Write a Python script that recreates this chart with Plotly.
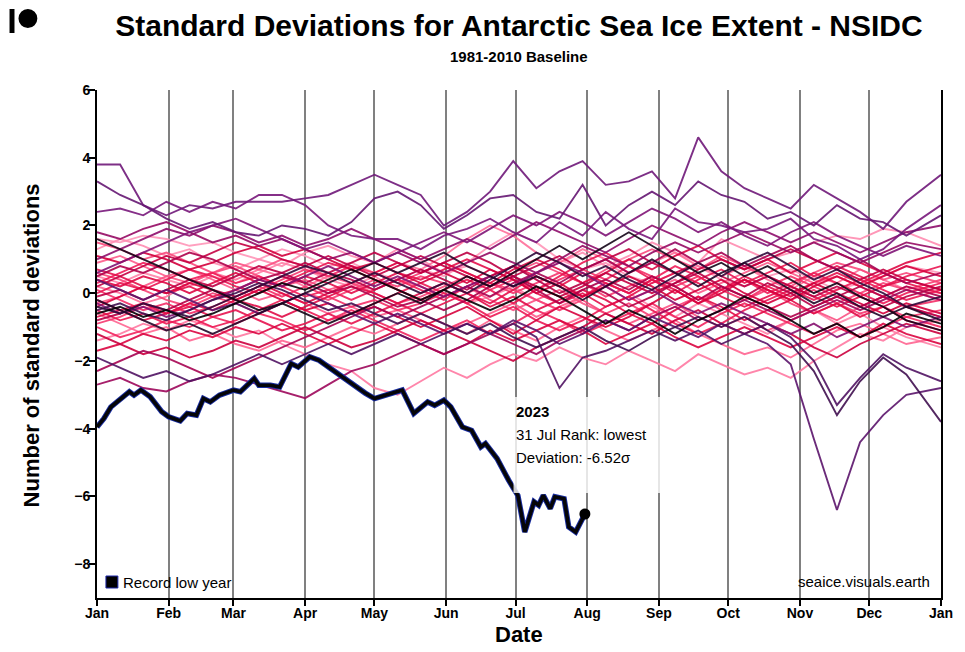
import pandas as pd
import plotly.graph_objects as go
from plotly.colors import sample_colorscale

# ---------------- data ----------------
# day-of-year sampling used for the historical years (Jan 1 = 0)
base_days = [0, 10, 20, 30, 40, 50, 60, 70, 80, 90, 100, 110, 120, 130, 140, 150, 160, 170,
             180, 190, 200, 210, 220, 230, 240, 250, 260, 270, 280, 290, 300, 310, 320, 330,
             340, 350, 365]

years = list(range(1979, 2023))

sd_1979 = [1.6, 1.5, 1.7, 1.6, 1.4, 1.5, 1.2, 1.0, 1.3, 1.1, 0.8, 0.9, 0.6, 0.4, 0.7, 0.5, 0.9, 1.4, 1.8, 1.5, 1.0, 0.7, 0.9, 0.5, 0.3, 0.6, 0.8, 0.4, 0.2, 0.5, 0.7, 0.4, 0.1, 0.3, 0.5, 0.8, 0.6]
sd_1980 = [1.3, 1.6, 1.4, 1.1, 1.3, 0.9, 0.7, 1.0, 0.8, 1.2, 1.4, 1.1, 0.9, 1.3, 1.0, 0.6, 0.8, 0.5, 0.2, 0.6, 0.9, 1.2, 0.8, 1.1, 1.5, 1.2, 0.9, 1.6, 1.3, 1.0, 1.2, 1.5, 1.7, 1.6, 1.9, 1.8, 1.4]
sd_1981 = [0.5, 0.3, 0.6, 0.4, 0.2, 0.5, 0.3, 0.6, 0.9, 0.7, 0.4, 0.2, 0.5, 0.1, -0.2, 0.1, -0.3, -0.1, 0.2, -0.2, -0.5, -0.1, 0.3, 0.0, -0.4, -0.7, -0.3, -0.6, -0.9, -1.2, -0.8, -0.5, -0.9, -0.6, -1.0, -1.3, -1.6]
sd_1982 = [-1.4, -1.2, -0.9, -1.1, -0.8, -1.0, -1.3, -1.1, -1.5, -1.8, -2.1, -2.3, -2.8, -3.0, -2.6, -2.2, -2.5, -2.1, -1.8, -2.0, -1.6, -1.9, -2.1, -1.7, -2.0, -2.3, -1.8, -2.1, -2.4, -2.2, -2.5, -2.0, -1.6, -1.2, -1.4, -1.0, -0.8]
sd_1983 = [0.2, 0.0, -0.3, -0.1, 0.3, 0.6, 0.4, 0.7, 0.5, 0.2, 0.5, 0.8, 0.6, 0.9, 0.7, 1.1, 1.6, 2.0, 1.7, 1.2, 0.9, 1.3, 1.0, 0.6, 0.9, 1.2, 0.8, 0.5, 0.8, 0.4, 0.1, 0.5, 0.3, 0.7, 0.4, 0.1, -0.2]
sd_1984 = [-0.6, -0.9, -1.2, -1.0, -1.4, -1.2, -1.5, -1.7, -1.4, -1.6, -1.3, -1.0, -1.2, -0.9, -0.6, -0.9, -1.2, -0.8, -1.1, -1.4, -1.0, -0.7, -1.1, -1.4, -1.1, -0.8, -1.2, -1.5, -1.8, -1.6, -1.9, -1.5, -1.1, -0.9, -1.2, -1.5, -1.3]
sd_1985 = [0.9, 1.1, 0.8, 0.5, 0.7, 0.4, 0.1, -0.2, 0.0, -0.3, -0.6, -0.4, -0.7, -0.5, -0.8, -1.1, -0.9, -0.6, -0.3, -0.7, -0.4, -0.1, 0.2, -0.2, 0.1, 0.4, 0.0, 0.3, 0.6, 0.9, 0.6, 0.3, 0.5, 0.2, -0.1, 0.2, 0.0]
sd_1986 = [-0.3, -0.1, 0.2, 0.5, 0.3, 0.6, 0.9, 0.7, 1.0, 0.8, 0.5, 0.3, 0.1, 0.4, 0.2, -0.1, 0.2, -0.2, -0.5, -0.2, 0.1, -0.3, -0.6, -0.9, -0.6, -0.3, -0.7, -1.0, -0.7, -1.1, -0.8, -0.5, -0.8, -0.4, -0.1, -0.4, -0.7]
sd_1987 = [1.5, 1.3, 1.0, 1.2, 0.9, 0.6, 0.8, 0.5, 0.2, 0.4, 0.1, 0.3, 0.0, -0.3, -0.1, 0.2, 0.5, 0.2, 0.6, 0.9, 0.6, 0.3, 0.7, 1.0, 1.3, 1.0, 0.7, 1.1, 0.8, 0.5, 0.2, 0.6, 0.9, 0.7, 0.4, 0.6, 0.3]
sd_1988 = [0.6, 0.4, 0.1, -0.2, -0.4, -0.1, -0.3, -0.6, -0.3, 0.0, -0.2, 0.1, 0.4, 0.2, 0.5, 0.3, 0.0, 0.3, 0.1, -0.2, -0.5, -0.2, -0.6, -0.3, -0.7, -0.4, -0.1, -0.5, -0.2, 0.1, -0.3, -0.6, -0.3, 0.0, 0.3, 0.1, 0.4]
sd_1989 = [-0.9, -0.7, -0.4, -0.6, -0.3, 0.0, -0.2, 0.1, 0.4, 0.7, 0.5, 0.8, 0.6, 0.3, 0.6, 0.9, 0.6, 0.3, 0.0, 0.3, 0.6, 0.3, -0.1, 0.2, 0.5, 0.2, -0.2, 0.1, 0.4, 0.1, -0.2, 0.1, -0.3, -0.6, -0.4, -0.7, -0.5]
sd_1990 = [0.1, -0.2, -0.5, -0.3, -0.6, -0.4, -0.1, 0.2, -0.1, 0.2, -0.1, -0.4, -0.2, -0.5, -0.3, 0.0, -0.3, 0.1, 0.4, 0.1, 0.4, 0.7, 0.4, 0.8, 0.5, 0.2, 0.5, 0.1, -0.2, 0.2, 0.5, 0.2, -0.1, -0.4, -0.1, -0.4, -0.2]
sd_1991 = [-1.0, -1.3, -1.1, -0.8, -1.0, -0.7, -0.9, -0.6, -0.8, -1.1, -0.8, -0.5, -0.8, -1.1, -1.4, -1.1, -0.8, -1.2, -0.9, -0.5, -0.8, -1.2, -0.9, -0.6, -0.3, -0.7, -1.0, -0.6, -0.3, -0.6, -0.9, -1.2, -0.9, -1.3, -1.0, -0.7, -1.0]
sd_1992 = [0.3, 0.6, 0.9, 0.7, 0.4, 0.6, 0.3, 0.5, 0.2, -0.1, 0.1, -0.2, 0.1, 0.4, 0.1, -0.2, 0.2, 0.5, 0.8, 0.5, 0.2, -0.1, 0.3, 0.0, 0.4, 0.8, 0.5, 0.1, 0.4, 0.0, 0.3, 0.6, 0.3, 0.0, -0.3, 0.0, 0.3]
sd_1993 = [-0.5, -0.8, -0.6, -0.9, -0.7, -1.0, -0.8, -0.5, -0.2, -0.5, -0.8, -0.6, -0.3, 0.0, 0.3, 0.0, -0.3, -0.7, -0.4, -0.8, -1.1, -0.8, -0.4, -0.1, -0.5, -0.9, -1.2, -0.9, -0.5, -0.2, 0.1, -0.2, 0.1, 0.4, 0.1, -0.2, 0.1]
sd_1994 = [0.0, 0.3, 0.1, 0.4, 0.7, 0.5, 0.2, 0.0, 0.3, 0.6, 0.9, 0.7, 0.4, 0.1, -0.2, 0.1, 0.4, 0.1, -0.3, 0.1, 0.5, 0.9, 1.2, 0.8, 0.4, 0.0, 0.4, 0.7, 0.3, 0.6, 0.9, 0.5, 0.8, 0.5, 0.2, 0.5, 0.8]
sd_1995 = [-0.2, -0.5, -0.3, -0.6, -0.4, -0.7, -0.5, -0.8, -1.1, -0.9, -0.6, -0.9, -0.6, -0.3, -0.6, -0.3, 0.0, -0.3, 0.1, 0.5, 0.2, 0.6, 0.3, 0.0, 0.4, 0.1, -0.3, 0.1, 0.5, 0.2, -0.1, 0.3, 0.6, 0.3, 0.6, 0.3, 0.0]
sd_1996 = [0.7, 0.5, 0.2, 0.0, 0.2, -0.1, 0.1, 0.4, 0.2, 0.5, 0.3, 0.0, 0.3, 0.6, 0.4, 0.7, 1.0, 0.7, 0.4, 0.0, -0.3, 0.0, -0.4, -0.1, 0.3, 0.6, 0.3, -0.1, -0.4, -0.1, 0.2, -0.1, -0.4, -0.1, 0.2, 0.4, 0.1]
sd_1997 = [-0.7, -0.5, -0.8, -0.6, -0.3, -0.5, -0.2, -0.4, -0.7, -0.4, -0.1, 0.2, 0.0, -0.3, 0.0, 0.3, 0.0, -0.4, -0.1, -0.5, -0.2, 0.1, -0.2, -0.6, -0.9, -0.5, -0.1, -0.4, -0.8, -0.5, -0.2, -0.6, -0.3, -0.7, -0.4, -0.8, -1.1]
sd_1998 = [0.4, 0.2, 0.5, 0.3, 0.0, 0.3, 0.6, 0.3, 0.0, -0.3, 0.0, 0.3, 0.6, 0.9, 0.6, 0.9, 0.6, 0.3, 0.7, 1.0, 0.7, 0.3, 0.6, 1.0, 0.7, 1.1, 1.4, 1.0, 0.7, 1.0, 0.6, 0.9, 1.2, 0.9, 0.6, 0.9, 1.2]
sd_1999 = [-1.7, -1.5, -1.2, -1.4, -1.1, -1.3, -1.0, -1.2, -0.9, -1.2, -1.5, -1.2, -0.9, -1.2, -1.5, -1.8, -1.5, -1.1, -1.4, -1.1, -0.8, -1.1, -1.5, -1.2, -0.9, -1.3, -1.6, -1.3, -1.0, -1.3, -1.6, -1.3, -1.0, -1.3, -0.9, -1.2, -1.5]
sd_2000 = [-0.4, -0.1, 0.2, 0.0, 0.3, 0.1, -0.2, 0.1, -0.2, -0.5, -0.3, -0.6, -0.4, -0.7, -1.0, -0.7, -0.4, -0.8, -1.2, -0.8, -0.4, -0.7, -1.0, -0.7, -0.3, 0.1, -0.3, 0.0, 0.4, 0.1, -0.2, 0.2, 0.5, 0.2, 0.5, 0.8, 0.5]
sd_2001 = [1.1, 0.9, 1.2, 1.0, 0.7, 0.9, 1.2, 1.4, 1.1, 1.3, 1.0, 0.7, 0.9, 0.6, 0.3, 0.6, 0.3, 0.7, 0.4, 0.0, 0.3, -0.1, 0.2, 0.5, 0.2, -0.2, 0.1, 0.4, 0.0, -0.3, 0.0, 0.3, 0.0, -0.3, -0.6, -0.3, -0.6]
sd_2002 = [-1.2, -1.5, -1.8, -1.6, -1.9, -1.7, -1.4, -1.6, -1.3, -1.0, -1.3, -1.6, -1.4, -1.1, -0.8, -1.1, -1.4, -1.7, -2.0, -1.6, -1.3, -1.0, -0.6, -0.9, -1.2, -0.8, -0.5, -0.9, -1.2, -0.9, -1.2, -1.6, -1.9, -1.5, -1.2, -0.9, -1.2]
sd_2003 = [0.2, 0.5, 0.8, 1.1, 0.9, 1.2, 1.5, 1.3, 1.0, 0.8, 1.1, 0.8, 0.5, 0.8, 1.1, 0.8, 0.5, 0.2, 0.5, 0.2, -0.1, 0.2, 0.6, 0.3, 0.0, 0.3, 0.7, 1.0, 0.7, 1.0, 1.3, 1.0, 0.7, 0.4, 0.7, 0.4, 0.1]
sd_2004 = [-0.1, 0.1, -0.2, 0.1, 0.4, 0.2, 0.5, 0.8, 0.6, 0.9, 0.6, 0.9, 1.2, 0.9, 0.6, 0.9, 1.2, 0.9, 0.5, 0.8, 1.1, 0.7, 1.0, 1.3, 0.9, 0.6, 0.9, 0.5, 0.2, 0.5, 0.2, -0.1, 0.2, -0.1, -0.4, -0.1, 0.2]
sd_2005 = [-0.8, -0.6, -0.3, -0.5, -0.2, 0.1, -0.1, 0.2, 0.5, 0.3, 0.6, 0.4, 0.1, 0.4, 0.7, 0.4, 0.1, 0.5, 0.8, 0.4, 0.0, 0.3, 0.0, -0.4, -0.1, 0.3, 0.6, 0.2, -0.1, 0.3, 0.0, -0.4, -0.1, 0.2, -0.1, -0.4, -0.7]
sd_2006 = [0.5, 0.8, 0.6, 0.9, 1.2, 1.0, 0.7, 0.4, 0.6, 0.3, 0.0, 0.2, -0.1, -0.4, -0.2, -0.5, -0.2, 0.2, 0.5, 0.1, -0.3, 0.1, 0.4, 0.1, 0.5, 0.2, -0.2, 0.2, -0.1, -0.4, -0.7, -0.4, -0.1, -0.4, -0.1, 0.2, -0.1]
sd_2007 = [-2.3, -2.0, -1.7, -1.9, -2.2, -2.5, -2.2, -1.9, -1.6, -1.3, -1.0, -0.7, -0.4, -0.7, -0.4, -0.1, 0.2, -0.1, 0.3, 0.6, 0.3, 0.7, 1.0, 0.6, 0.9, 1.3, 0.9, 1.2, 0.8, 1.1, 1.4, 1.0, 0.7, 1.0, 0.6, 0.3, 0.6]
sd_2008 = [-2.7, -2.5, -2.8, -2.9, -2.6, -2.4, -2.5, -2.7, -2.9, -3.1, -2.7, -2.3, -2.1, -1.8, -1.5, -1.8, -1.5, -1.2, -1.5, -1.8, -1.4, -1.1, -0.8, -1.1, -0.7, -0.4, -0.8, -0.5, -0.2, -0.5, -0.8, -0.5, -0.2, -0.5, -0.2, 0.1, -0.2]
sd_2009 = [1.8, 1.6, 1.9, 2.1, 1.8, 1.5, 1.7, 1.4, 1.6, 1.3, 1.0, 1.2, 0.9, 1.2, 0.9, 0.6, 0.9, 1.2, 0.9, 0.6, 1.0, 1.4, 1.1, 0.8, 1.2, 1.5, 1.2, 1.5, 1.8, 1.5, 1.2, 1.5, 1.2, 0.9, 1.2, 1.5, 1.3]
sd_2010 = [1.0, 1.3, 1.6, 1.9, 1.7, 2.0, 1.8, 1.5, 1.7, 1.4, 1.6, 1.9, 1.6, 1.3, 1.0, 1.3, 1.6, 1.3, 1.7, 2.1, 1.8, 1.5, 1.2, 1.6, 2.0, 1.7, 1.4, 1.8, 2.1, 1.8, 1.5, 1.8, 1.5, 1.2, 1.5, 1.8, 2.0]
sd_2011 = [-0.3, -0.6, -0.4, -0.7, -0.5, -0.2, 0.1, 0.4, 0.2, 0.5, 0.8, 0.5, 0.2, 0.5, 0.2, -0.1, 0.2, 0.5, 0.2, 0.6, 0.9, 0.6, 0.2, -0.2, 0.1, -0.3, -0.6, -0.3, -0.6, -0.9, -1.2, -0.9, -1.3, -1.0, -0.7, -1.0, -0.7]
sd_2012 = [0.6, 0.9, 1.2, 1.5, 1.8, 2.0, 2.2, 1.9, 1.6, 1.3, 1.5, 1.2, 0.9, 1.2, 1.5, 1.8, 1.5, 1.9, 2.3, 2.0, 2.4, 2.1, 1.7, 2.1, 2.5, 2.2, 1.8, 2.1, 1.7, 1.4, 1.8, 2.1, 1.7, 1.4, 1.1, 1.4, 1.1]
sd_2013 = [2.4, 2.5, 2.3, 2.7, 2.4, 2.7, 2.5, 2.9, 2.9, 2.6, 2.0, 1.7, 1.6, 1.6, 1.3, 1.7, 1.9, 2.2, 1.8, 1.5, 2.1, 1.7, 2.4, 1.9, 1.6, 2.5, 2.1, 2.0, 1.8, 1.9, 2.2, 1.6, 1.4, 1.0, 1.3, 1.9, 2.6]
sd_2014 = [3.8, 3.8, 2.6, 2.3, 2.6, 2.5, 2.7, 2.7, 2.7, 2.8, 2.9, 3.2, 3.5, 3.2, 2.9, 2.0, 2.4, 3.0, 3.9, 3.1, 3.6, 3.9, 3.2, 3.3, 3.6, 2.8, 4.6, 3.6, 3.1, 2.8, 2.5, 3.2, 2.8, 2.4, 1.9, 2.7, 3.5]
sd_2015 = [3.3, 2.9, 2.6, 2.2, 1.9, 2.1, 1.8, 1.7, 2.0, 1.9, 1.7, 2.1, 2.8, 3.0, 2.6, 1.9, 2.3, 2.8, 2.9, 2.4, 2.2, 3.2, 2.0, 2.6, 3.0, 2.6, 3.3, 2.9, 2.7, 2.2, 2.4, 2.0, 2.6, 2.2, 2.1, 1.7, 2.3]
sd_2016 = [0.4, 0.1, -0.2, 0.1, -0.2, -0.5, -0.3, -0.6, -0.3, 0.0, -0.3, -0.6, -0.9, -0.6, -0.9, -1.2, -0.9, -1.2, -0.8, -1.1, -1.5, -1.2, -0.8, -1.1, -0.7, -1.0, -1.3, -0.9, -1.2, -1.5, -2.1, -4.3, -6.4, -4.4, -3.6, -3.0, -2.8]
sd_2017 = [-1.9, -2.2, -2.5, -2.3, -2.6, -2.4, -2.1, -1.8, -2.1, -1.8, -1.5, -1.8, -1.5, -1.2, -1.5, -1.2, -0.9, -1.2, -0.9, -1.3, -2.8, -1.9, -1.7, -1.4, -1.1, -1.4, -1.1, -1.5, -1.2, -0.9, -1.3, -2.0, -3.3, -2.5, -1.8, -2.2, -2.6]
sd_2018 = [-0.5, -0.3, -0.6, -0.8, -0.5, -0.2, 0.0, 0.3, 0.1, -0.2, -0.5, -0.3, -0.6, -0.9, -0.6, -0.9, -1.2, -0.9, -1.3, -1.6, -1.3, -1.0, -1.4, -1.7, -1.3, -1.0, -0.7, -1.0, -0.7, -1.1, -1.5, -2.3, -3.6, -2.6, -1.9, -2.4, -3.8]
sd_2019 = [-0.4, -0.6, -0.3, -0.5, -0.7, -0.4, -0.1, 0.2, 0.5, 0.8, 0.6, 0.3, 0.6, 0.3, 0.0, 0.3, 0.0, 0.4, 0.8, 1.2, 0.9, 0.5, 0.8, 0.4, 0.1, 0.5, 0.9, 0.5, 0.9, 1.2, 0.8, 0.4, 0.7, 0.3, 0.0, -0.4, -0.1]
sd_2020 = [-0.2, -0.5, -0.8, -1.1, -0.9, -1.2, -0.9, -0.6, -0.3, 0.0, 0.3, 0.6, 0.9, 0.6, 0.9, 1.2, 0.8, 0.5, 0.2, 0.5, 0.2, -0.2, 0.2, 0.6, 1.0, 0.6, 0.2, 0.6, 0.9, 0.5, 0.1, -0.3, 0.0, -0.4, -0.7, -0.4, -0.8]
sd_2021 = [1.6, 1.3, 1.0, 0.7, 0.4, 0.1, -0.2, -0.5, -0.3, -0.6, -0.9, -0.6, -0.3, 0.0, -0.3, 0.1, 0.5, 0.2, 0.6, 1.0, 1.4, 1.0, 1.4, 1.8, 1.4, 1.0, 0.6, 0.9, 0.5, 0.8, 0.4, 0.0, 0.3, -0.1, -0.4, -0.8, -1.1]
sd_2022 = [-0.6, -0.4, -0.7, -0.5, -0.8, -0.6, -0.3, 0.0, 0.3, 0.1, 0.4, 0.7, 0.4, 0.1, -0.2, 0.1, -0.2, -0.5, -0.2, 0.2, -0.1, -0.5, -0.9, -0.5, -0.8, -1.2, -0.8, -0.5, -0.1, -0.4, -0.8, -1.2, -0.9, -1.3, -1.0, -0.6, -0.9]

historical = [sd_1979, sd_1980, sd_1981, sd_1982, sd_1983, sd_1984, sd_1985, sd_1986,
              sd_1987, sd_1988, sd_1989, sd_1990, sd_1991, sd_1992, sd_1993, sd_1994,
              sd_1995, sd_1996, sd_1997, sd_1998, sd_1999, sd_2000, sd_2001, sd_2002,
              sd_2003, sd_2004, sd_2005, sd_2006, sd_2007, sd_2008, sd_2009, sd_2010,
              sd_2011, sd_2012, sd_2013, sd_2014, sd_2015, sd_2016, sd_2017, sd_2018,
              sd_2019, sd_2020, sd_2021, sd_2022]

days_2023 = [0, 3, 6, 10, 14, 16, 19, 23, 28, 31, 36, 39, 43, 46, 49, 53, 59, 62, 68, 70,
             75, 79, 84, 87, 92, 96, 100, 110, 116, 120, 125, 132, 137, 143, 146, 150, 153,
             158, 162, 166, 168, 173, 178, 182, 185, 189, 191, 193, 196, 198, 202, 204, 207,
             209, 211]
sd_2023 = [-3.95, -3.7, -3.36, -3.12, -2.91, -3.01, -2.86, -3.06, -3.5, -3.65, -3.77, -3.55,
           -3.6, -3.11, -3.21, -3.01, -2.86, -2.91, -2.52, -2.72, -2.72, -2.77, -2.08, -2.18,
           -1.88, -1.98, -2.18, -2.67, -2.95, -3.11, -3.01, -2.86, -3.55, -3.21, -3.31, -3.16,
           -3.36, -3.95, -4.05, -4.54, -4.44, -4.88, -5.52, -5.97, -7.05, -6.16, -6.26, -5.97,
           -6.36, -6.01, -6.07, -6.9, -7.05, -6.8, -6.52]
rank_2023 = "lowest"

y_ticks = [-8, -6, -4, -2, 0, 2, 4, 6]

# ---------------- helpers ----------------
START = pd.Timestamp("2023-01-01")
END = pd.Timestamp("2024-01-01")


def to_dates(days):
    return [START + pd.Timedelta(days=d) for d in days]


# the page body adds an 8px margin; the figure is sized to fit the 965x652 window
OFF = 8
W, H = 965 - OFF, 652 - OFF
# plot area in screen pixels: left 97, right 946, top 90, bottom 598
ML, MR, MT, MB = 97 - OFF, W - (946 - OFF), 90 - OFF, H - (598 - OFF)
PW, PH = W - ML - MR, H - MT - MB


def px(xs):  # screen x -> paper
    return (xs - OFF - ML) / PW


def py(ys):  # screen y -> paper
    return (H - MB - (ys - OFF)) / PH


FONT = "Liberation Sans, Arial, Helvetica, sans-serif"

scale = [[0.0, "rgb(255,150,185)"], [0.12, "rgb(255,100,145)"], [0.3, "rgb(240,30,90)"],
         [0.5, "rgb(215,0,60)"], [0.62, "rgb(178,0,72)"], [0.72, "rgb(142,14,108)"],
         [0.8, "rgb(118,26,126)"], [0.88, "rgb(84,20,102)"], [0.94, "rgb(42,10,52)"],
         [1.0, "rgb(6,2,6)"]]
n = len(years)
colors = sample_colorscale(scale, [i / (n - 1) for i in range(n)])

fig = go.Figure()
base_dates = to_dates(base_days)
for yr, vals, col in zip(years, historical, colors):
    fig.add_trace(go.Scatter(x=base_dates, y=vals, mode="lines", name=str(yr),
                             line=dict(color=col, width=1.9),
                             opacity=0.9, hoverinfo="skip", showlegend=False))

d23 = to_dates(days_2023)
fig.add_trace(go.Scatter(x=d23, y=sd_2023, mode="lines", line=dict(color="rgb(25,45,160)", width=5.5),
                         hoverinfo="skip", showlegend=False))
fig.add_trace(go.Scatter(x=d23, y=sd_2023, mode="lines", line=dict(color="rgb(5,5,8)", width=3.6),
                         name="2023", showlegend=False))
fig.add_trace(go.Scatter(x=[d23[-1]], y=[sd_2023[-1]], mode="markers",
                         marker=dict(color="black", size=11), showlegend=False, hoverinfo="skip"))

last_date = d23[-1]
ann_font = dict(family=FONT, size=15, color="black")


def note(text, xs, ys, xanchor="center", **kw):
    return dict(text=text, x=px(xs), y=py(ys), xref="paper", yref="paper", xanchor=xanchor,
                yanchor="middle", showarrow=False, **kw)


annotations = [
    note("<b>1981-2010 Baseline</b>", 521, 57, font=dict(family=FONT, size=15, color="black")),
    note("<b>Number of standard deviations</b>", 31, 345, textangle=-90,
         font=dict(family=FONT, size=22, color="black")),
    note("<b>Date</b>", 522, 634, font=dict(family=FONT, size=22, color="black")),
    note("<b>2023</b>", 516, 411, xanchor="left", font=ann_font),
    note(f"{last_date.day} {last_date.strftime('%b')} Rank: {rank_2023}", 516, 434,
         xanchor="left", font=ann_font),
    note(f"Deviation: {sd_2023[-1]:.2f}σ", 516, 457, xanchor="left", font=ann_font),
    note("Record low year", 121, 582, xanchor="left", font=ann_font),
    note("seaice.visuals.earth", 937, 581, xanchor="right", font=ann_font),
]

shapes = [
    dict(type="rect", xref="paper", yref="paper", x0=px(516), x1=px(668), y0=py(493), y1=py(397),
         fillcolor="rgba(255,255,255,0.8)", line=dict(width=0), layer="above"),
    dict(type="rect", xref="paper", yref="paper", x0=px(106), x1=px(118), y0=py(588), y1=py(576),
         fillcolor="black", line=dict(color="rgb(30,40,170)", width=1), layer="above"),
    dict(type="rect", xref="paper", yref="paper", x0=px(9), x1=px(14), y0=py(33), y1=py(9),
         fillcolor="black", line=dict(width=0), layer="above"),
    dict(type="circle", xref="paper", yref="paper", x0=px(18), x1=px(37), y0=py(28), y1=py(9),
         fillcolor="black", line=dict(width=0), layer="above"),
]

fig.update_layout(
    width=W, height=H, autosize=False,
    margin=dict(l=ML, r=MR, t=MT, b=MB, pad=0),
    paper_bgcolor="white", plot_bgcolor="white",
    font=dict(family=FONT, color="black"),
    title=dict(text="<b>Standard Deviations for Antarctic Sea Ice Extent - NSIDC</b>",
               x=0.5, xref="paper", xanchor="center", y=1 - (25 - OFF) / H, yref="container",
               yanchor="middle", font=dict(family=FONT, size=30, color="black")),
    annotations=annotations,
    shapes=shapes,
    showlegend=False,
)
fig.update_xaxes(type="date", range=[START, END], dtick="M1", tick0=START, tickformat="%b",
                 showgrid=True, gridcolor="rgb(128,128,128)", gridwidth=1.6,
                 showline=True, linecolor="black", linewidth=2,
                 ticks="outside", ticklen=6, tickwidth=2, tickcolor="black", ticklabelstandoff=-5,
                 tickfont=dict(family=FONT, size=14, color="black", weight="bold"),
                 zeroline=False, fixedrange=True)
fig.update_yaxes(range=[-9, 6], tickvals=y_ticks, showgrid=False, zeroline=False,
                 showline=True, linecolor="black", linewidth=2, mirror=True,
                 ticks="outside", ticklen=6, tickwidth=2, tickcolor="black", ticklabelstandoff=-4,
                 tickfont=dict(family=FONT, size=14, color="black", weight="bold"),
                 fixedrange=True)

fig.write_html("out.html")
